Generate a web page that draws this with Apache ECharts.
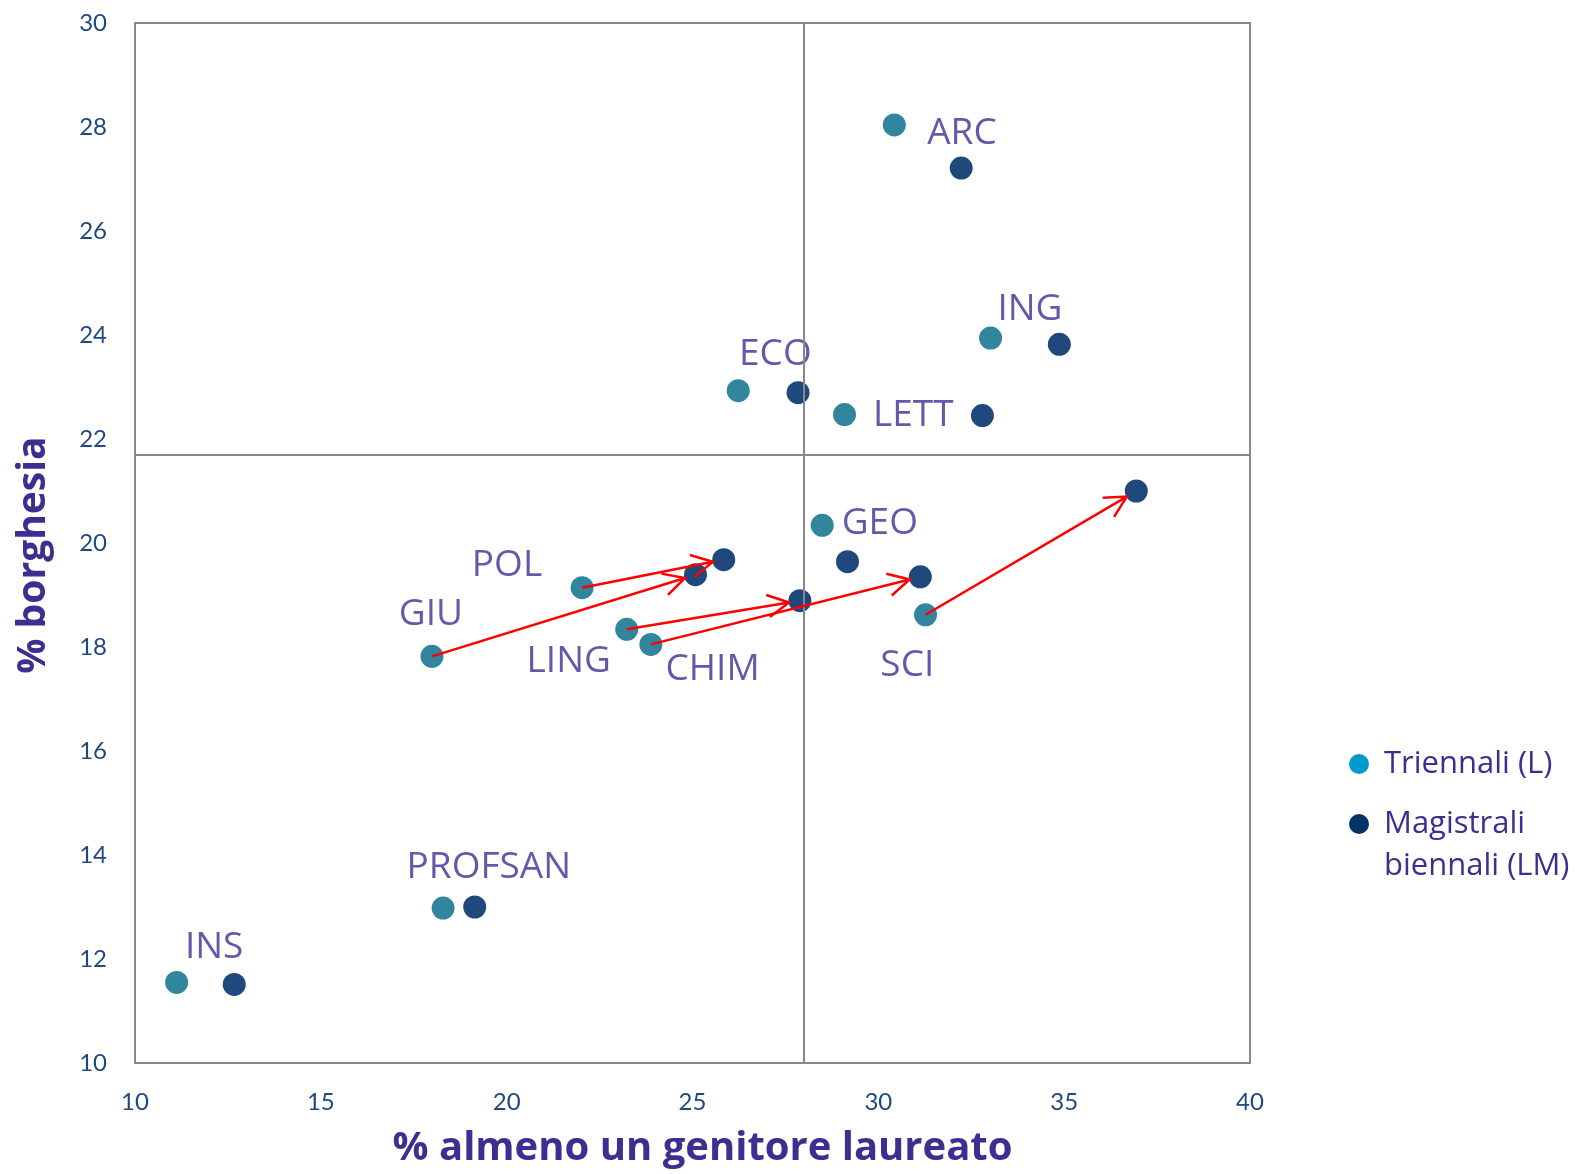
<!DOCTYPE html>
<html>
<head>
<meta charset="utf-8">
<script src="https://cdn.jsdelivr.net/npm/echarts@6/dist/echarts.min.js"></script>
<style>
  html, body { margin: 0; padding: 0; background: #fff; }
  #chart { width: 1590px; height: 1174px; }
</style>
</head>
<body>
<div id="chart"></div>
<script>
// corsi di laurea
var codes = ['ARC', 'ING', 'ECO', 'LETT', 'GEO', 'POL', 'LING', 'CHIM', 'GIU', 'SCI', 'PROFSAN', 'INS'];
// Triennali (L)
var triX = [30.43, 33.02, 26.23, 29.09, 28.49, 22.03, 23.23, 23.88, 17.99, 31.27, 18.29, 11.12];
var triY = [28.04, 23.94, 22.93, 22.47, 20.34, 19.14, 18.34, 18.05, 17.82, 18.62, 12.98, 11.55];
// Magistrali biennali (LM)
var magX = [32.23, 34.87, 27.84, 32.80, 29.17, 25.84, 27.89, 31.13, 25.08, 36.94, 19.14, 12.67];
var magY = [27.21, 23.82, 22.89, 22.45, 19.64, 19.68, 18.89, 19.35, 19.39, 21.00, 13.00, 11.51];
// posizione etichette
var labelX = [32.25, 34.08, 27.23, 30.94, 30.04, 20.01, 21.67, 25.54, 17.96, 30.78, 19.52, 12.13];
var labelY = [27.88, 24.49, 23.62, 22.46, 20.37, 19.57, 17.73, 17.56, 18.62, 17.64, 13.76, 12.23];
// frecce L -> LM
var arrowCodes = ['POL', 'GIU', 'LING', 'CHIM', 'SCI'];
// linee di riferimento
var refX = 28;
var refY = 21.7;

var xTicks = [10, 15, 20, 25, 30, 35, 40];
var yTicks = [10, 12, 14, 16, 18, 20, 22, 24, 26, 28, 30];

var triData = triX.map(function (x, i) { return [x, triY[i]]; });
var magData = magX.map(function (x, i) { return [x, magY[i]]; });
var labelData = codes.map(function (c, i) { return { name: c, value: [labelX[i], labelY[i]] }; });
var arrowData = arrowCodes.map(function (c) {
  var i = codes.indexOf(c);
  return [triX[i], triY[i], magX[i], magY[i]];
});

var labelColor = '#3C2F92';

var myChart = echarts.init(document.getElementById('chart'));
myChart.setOption({
  animation: false,
  backgroundColor: '#fff',
  grid: {
    left: 135, right: 340, top: 23, bottom: 105,
    show: true, borderColor: '#888', borderWidth: 2
  },
  legend: {
    orient: 'vertical',
    left: 1344,
    top: 738,
    icon: 'circle',
    itemWidth: 40,
    itemHeight: 20,
    itemGap: -24,
    selectedMode: false,
    textStyle: { fontFamily: 'Open Sans', fontSize: 31, color: labelColor, lineHeight: 42 },
    formatter: function (name) {
      // la seconda voce va su due righe, allineata al simbolo con la prima
      return name.indexOf('Magistrali ') === 0 ? '\n' + name.replace('Magistrali ', 'Magistrali\n') : name;
    },
    data: [
      { name: 'Triennali (L)', itemStyle: { color: '#0099CC' } },
      { name: 'Magistrali biennali (LM)', itemStyle: { color: '#003366' } }
    ]
  },
  xAxis: {
    type: 'value', min: 10, max: 40, interval: 5,
    splitLine: { show: false },
    axisLine: { show: false },
    axisTick: { show: false },
    axisLabel: { margin: 27, fontFamily: 'Lato', fontSize: 24, color: '#1F497D',
      formatter: function (v) { return xTicks.indexOf(v) >= 0 ? String(v) : ''; } },
    name: '% almeno un genitore laureato',
    nameLocation: 'middle',
    nameGap: 66,
    nameTextStyle: { fontFamily: 'Open Sans', fontWeight: 'bold', fontSize: 40, color: labelColor, padding: [0, 0, 0, 20] }
  },
  yAxis: {
    type: 'value', min: 10, max: 30, interval: 2,
    splitLine: { show: false },
    axisLine: { show: false },
    axisTick: { show: false },
    axisLabel: { margin: 28, fontFamily: 'Lato', fontSize: 24, color: '#1F497D',
      formatter: function (v) { return yTicks.indexOf(v) >= 0 ? String(v) : ''; } },
    name: '% borghesia',
    nameLocation: 'middle',
    nameGap: 82,
    nameRotate: 90,
    nameTextStyle: { fontFamily: 'Open Sans', fontWeight: 'bold', fontSize: 39, color: labelColor, padding: [0, 24, 0, 0] }
  },
  series: [
    {
      name: 'etichette',
      type: 'scatter',
      z: 1,
      silent: true,
      symbolSize: 1,
      itemStyle: { color: 'rgba(0,0,0,0)' },
      label: {
        show: true, position: 'inside',
        formatter: '{b}',
        fontFamily: 'Open Sans', fontSize: 37, color: labelColor
      },
      markLine: {
        silent: true,
        symbol: 'none',
        label: { show: false },
        lineStyle: { color: '#888', width: 2, type: 'solid' },
        data: [{ xAxis: refX }, { yAxis: refY }]
      },
      data: labelData
    },
    {
      name: 'Triennali (L)',
      type: 'scatter',
      z: 3,
      symbolSize: 23,
      itemStyle: { color: '#31859C', opacity: 1 },
      data: triData
    },
    {
      name: 'Magistrali biennali (LM)',
      type: 'scatter',
      z: 3,
      symbolSize: 23,
      itemStyle: { color: '#1F497D', opacity: 1 },
      data: magData
    },
    {
      name: 'frecce',
      type: 'custom',
      z: 5,
      silent: true,
      encode: { x: [0, 2], y: [1, 3] },
      renderItem: function (params, api) {
        var p1 = api.coord([api.value(0), api.value(1)]);
        var p2 = api.coord([api.value(2), api.value(3)]);
        var dx = p2[0] - p1[0], dy = p2[1] - p1[1];
        var len = Math.sqrt(dx * dx + dy * dy);
        var ux = dx / len, uy = dy / len;
        var tip = [p2[0] - ux * 11, p2[1] - uy * 11];
        var head = 24, ang = Math.PI / 6.5;
        function wing(a) {
          var c = Math.cos(a), s = Math.sin(a);
          return [tip[0] - head * (ux * c - uy * s), tip[1] - head * (ux * s + uy * c)];
        }
        return {
          type: 'group',
          children: [
            { type: 'line', shape: { x1: p1[0], y1: p1[1], x2: tip[0], y2: tip[1] },
              style: { stroke: '#FF0000', lineWidth: 2.5 } },
            { type: 'polyline', shape: { points: [wing(ang), tip, wing(-ang)] },
              style: { stroke: '#FF0000', lineWidth: 2.5, fill: null } }
          ]
        };
      },
      data: arrowData
    }
  ]
});
</script>
</body>
</html>
